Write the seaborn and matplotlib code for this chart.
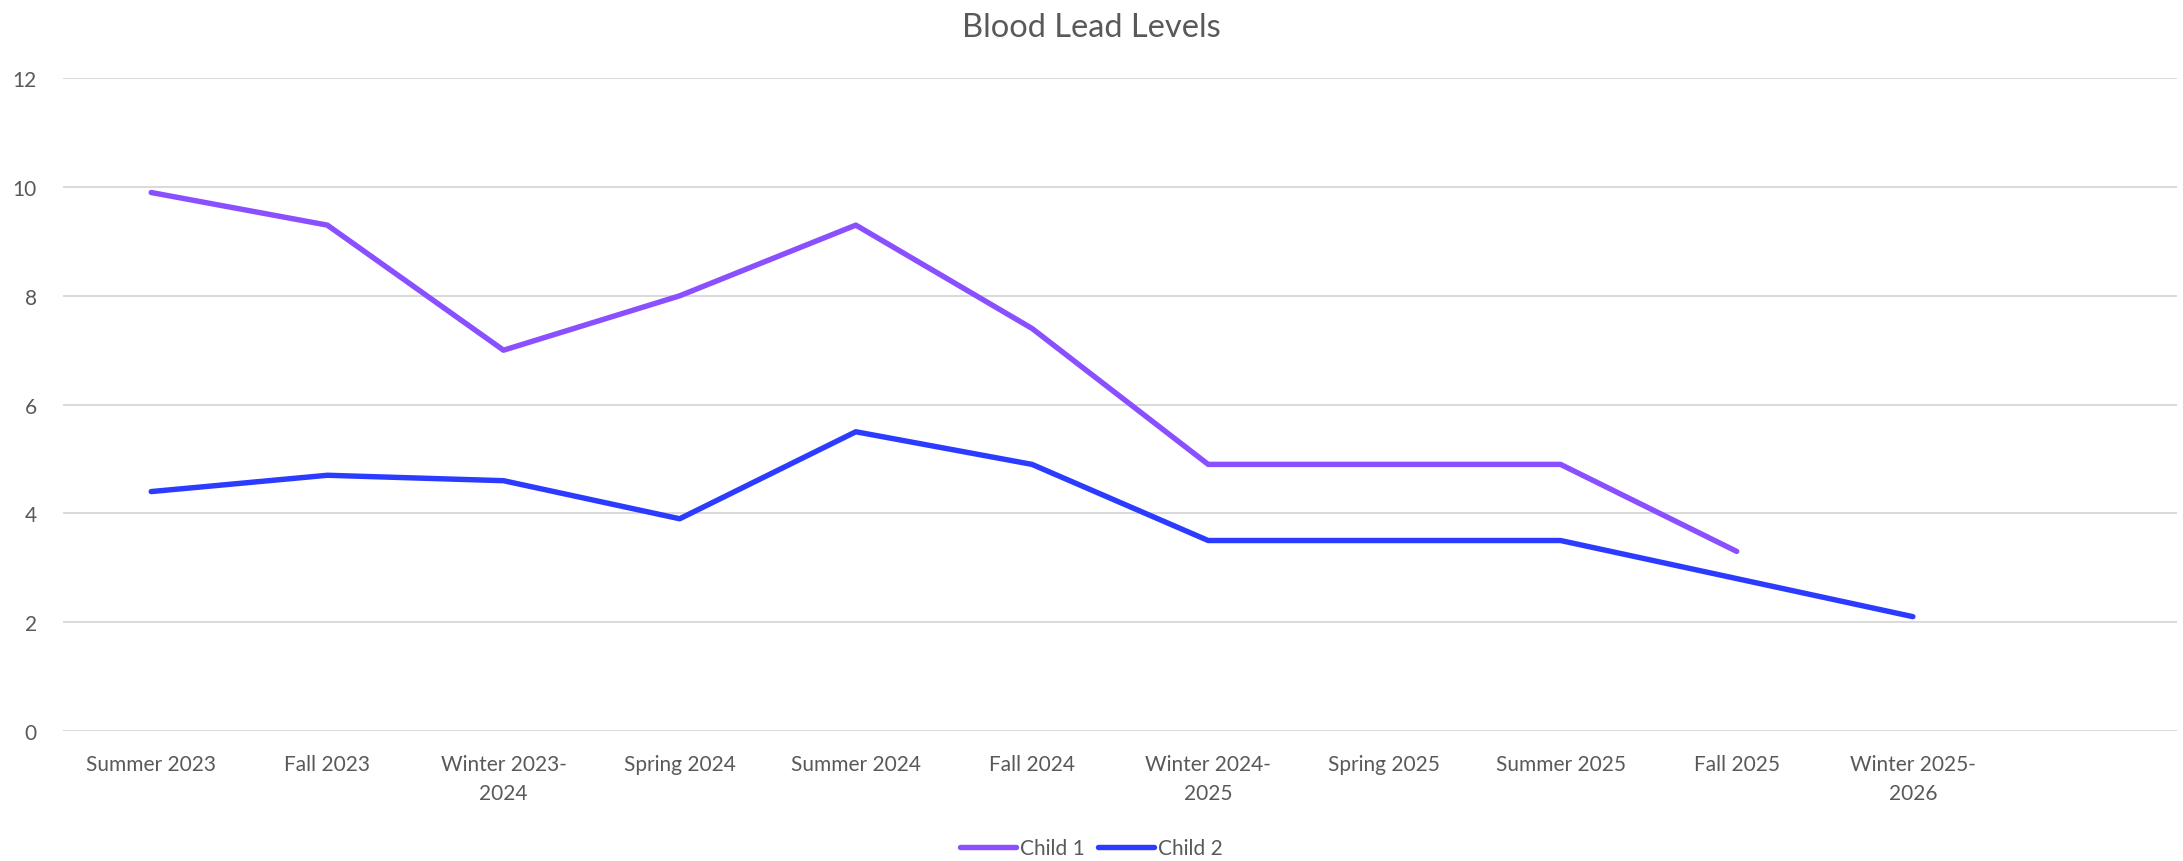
import numpy as np
import pandas as pd
import matplotlib
matplotlib.use('Agg')
import matplotlib.pyplot as plt
import seaborn as sns

# Seasons sampled (last slot of the data range is empty)
seasons = ['Summer 2023', 'Fall 2023', 'Winter 2023-\n2024', 'Spring 2024',
           'Summer 2024', 'Fall 2024', 'Winter 2024-\n2025', 'Spring 2025',
           'Summer 2025', 'Fall 2025', 'Winter 2025-\n2026', '']
child1 = [9.9, 9.3, 7.0, 8.0, 9.3, 7.4, 4.9, 4.9, 4.9, 3.3, np.nan, np.nan]
child2 = [4.4, 4.7, 4.6, 3.9, 5.5, 4.9, 3.5, 3.5, 3.5, 2.8, 2.1, np.nan]
series_names = ['Child 1', 'Child 2']
colors = ['#8a4fff', '#2b3bff']

sns.set_style('white')
plt.rcParams['font.family'] = ['Lato', 'DejaVu Sans']
plt.rcParams['lines.solid_capstyle'] = 'round'

# long-form table for seaborn
pos = np.arange(len(seasons))
df = pd.DataFrame({
    'pos': np.concatenate([pos, pos]),
    'level': np.concatenate([child1, child2]),
    'child': [series_names[0]] * len(seasons) + [series_names[1]] * len(seasons),
}).dropna()

fig = plt.figure(figsize=(21.83, 8.62), dpi=100)
ax = fig.add_axes([0.0289, 0.151, 0.9684, 0.757])

sns.lineplot(data=df, x='pos', y='level', hue='child', hue_order=series_names,
             palette=colors, linewidth=3.9, ax=ax, legend=True)

text_color = '#595959'
ax.set_xlim(-0.5, len(seasons) - 0.5)
ax.set_ylim(0, 12)
ax.set_yticks(range(0, 13, 2))
ax.set_xticks(pos)
ax.set_xticklabels(seasons, linespacing=1.55)
ax.tick_params(axis='both', length=0, labelsize=15, colors=text_color)
ax.tick_params(axis='x', pad=17)
ax.tick_params(axis='y', pad=19)
ax.grid(axis='y', color='#d9d9d9', linewidth=1.4)
ax.grid(axis='x', visible=False)
for s in ax.spines.values():
    s.set_visible(False)
ax.set_axisbelow(True)
ax.set_xlabel('')
ax.set_ylabel('')

fig.text(0.5, 1 - 28 / 862, 'Blood Lead Levels', ha='center', va='center',
         fontsize=23.5, color=text_color)

leg = ax.legend(loc='center', bbox_to_anchor=(0.5, 1 - 849 / 862),
                bbox_transform=fig.transFigure, ncol=2, frameon=False,
                fontsize=15, handlelength=2.7, handletextpad=0.2,
                columnspacing=0.6)
for t in leg.get_texts():
    t.set_color(text_color)
for h in leg.get_lines():
    h.set_linewidth(3.9)

fig.savefig('out.png', dpi=100)
